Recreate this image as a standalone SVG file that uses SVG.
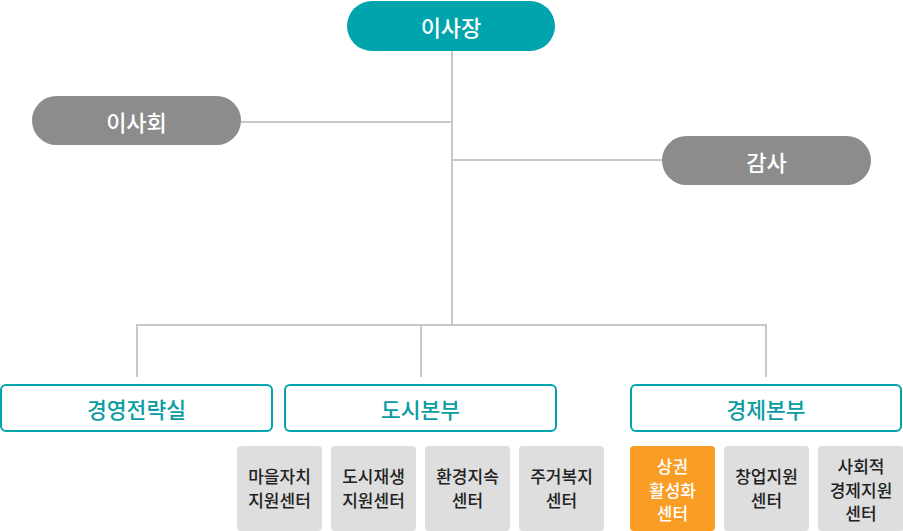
<svg xmlns="http://www.w3.org/2000/svg" width="903" height="531" viewBox="0 0 903 531">
<style>
text{font-family:"Noto Sans CJK KR","Noto Sans",sans-serif;text-anchor:middle;dominant-baseline:central}
.ln{stroke:#c8c8c8;stroke-width:2;fill:none}
.teal{fill:#00a4ac}
.gpill{fill:#8c8c8c}
.w{fill:#fff;font-size:22px;font-weight:500}
.dept{fill:#fff;stroke:#00a4ac;stroke-width:2}
.dt{fill:#0a9ca3;font-size:21.5px;font-weight:500}
.sub{fill:#dedede}
.org{fill:#f99d24}
.st{fill:#222;font-size:17px;font-weight:500}
.sw{fill:#fff;font-size:17px;font-weight:500}
</style>
<rect width="903" height="531" fill="#fff"/>
<g id="connectors">
<line class="ln" x1="452" y1="50" x2="452" y2="325"/>
<line class="ln" x1="241" y1="122" x2="452" y2="122"/>
<line class="ln" x1="452" y1="160" x2="662" y2="160"/>
<polyline class="ln" points="137,377 137,325 766,325 766,377"/>
<line class="ln" x1="421" y1="325" x2="421" y2="377"/>
</g>
<g id="chairman"><rect class="teal" x="347" y="1" width="208" height="50" rx="25"/><text class="w" x="451" y="26">이사장</text></g>
<g id="board"><rect class="gpill" x="32" y="96" width="209" height="49" rx="24.5"/><text class="w" x="136.5" y="121">이사회</text></g>
<g id="audit"><rect class="gpill" x="662" y="136" width="209" height="49" rx="24.5"/><text class="w" x="766.5" y="161">감사</text></g>
<g id="strategy"><rect class="dept" x="1" y="385" width="271" height="46" rx="5"/><text class="dt" x="136.5" y="408">경영전략실</text></g>
<g id="urban"><rect class="dept" x="285" y="385" width="271" height="46" rx="5"/><text class="dt" x="420.5" y="408">도시본부</text></g>
<g id="economy"><rect class="dept" x="631" y="385" width="270" height="46" rx="5"/><text class="dt" x="766" y="408">경제본부</text></g>
<g id="village"><rect class="sub" x="237" y="446" width="85" height="85" rx="4"/><text class="st" x="279.5" y="475">마을자치</text><text class="st" x="279.5" y="499">지원센터</text></g>
<g id="regen"><rect class="sub" x="331" y="446" width="85" height="85" rx="4"/><text class="st" x="373.5" y="475">도시재생</text><text class="st" x="373.5" y="499">지원센터</text></g>
<g id="env"><rect class="sub" x="425" y="446" width="85" height="85" rx="4"/><text class="st" x="467.5" y="475">환경지속</text><text class="st" x="467.5" y="499">센터</text></g>
<g id="housing"><rect class="sub" x="519" y="446" width="85" height="85" rx="4"/><text class="st" x="561.5" y="475">주거복지</text><text class="st" x="561.5" y="499">센터</text></g>
<g id="commerce"><rect class="org" x="630" y="446" width="85" height="85" rx="4"/><text class="sw" x="672.5" y="465">상권</text><text class="sw" x="672.5" y="489">활성화</text><text class="sw" x="672.5" y="512">센터</text></g>
<g id="startup"><rect class="sub" x="724" y="446" width="85" height="85" rx="4"/><text class="st" x="766.5" y="475">창업지원</text><text class="st" x="766.5" y="499">센터</text></g>
<g id="social"><rect class="sub" x="818" y="446" width="86" height="85" rx="4"/><text class="st" x="861" y="465">사회적</text><text class="st" x="861" y="489">경제지원</text><text class="st" x="861" y="512">센터</text></g>
</svg>
